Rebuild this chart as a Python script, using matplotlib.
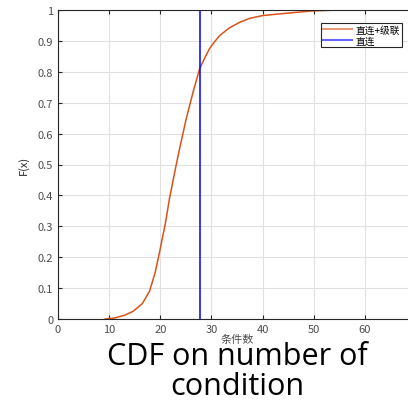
import numpy as np
import matplotlib
matplotlib.use('Agg')
import matplotlib.pyplot as plt

plt.rcParams['font.family'] = ['Noto Sans CJK SC', 'DejaVu Sans']

# CDF
cond_x = [9.2, 11, 13, 14.7, 16.5, 17.9, 19, 19.9, 21, 21.8, 23, 23.8, 25.1, 26.5,
          27.7, 28.7, 29.6, 30.5, 31.6, 33.5, 35.5, 37.5, 40, 45, 49.7, 55, 70]
cond_cdf = [0.0, 0.003, 0.012, 0.025, 0.05, 0.09, 0.15, 0.22, 0.31, 0.39, 0.49, 0.553,
            0.65, 0.74, 0.81, 0.845, 0.874, 0.895, 0.917, 0.942, 0.96, 0.973, 0.982,
            0.99, 0.997, 1.0, 1.0]
direct_x = 27.7

fig = plt.figure(figsize=(4.08, 4.06), dpi=100)
ax = fig.add_axes([58 / 408, 1 - 320 / 406, 358 / 408, 309 / 406])
ax.plot(cond_x, cond_cdf, color='#D95319', lw=1.1, label='直连+级联')
ax.axvline(direct_x, color='#0000FF', lw=1.1, label='直连')
ax.set_xlim(0, 70)
ax.set_ylim(0, 1)
ax.set_xticks(np.arange(0, 71, 10))
ax.set_xticklabels(['0', '10', '20', '30', '40', '50', '60', ''])
ax.set_yticks(np.arange(0, 1.01, 0.1))
ax.set_yticklabels(['0', '0.1', '0.2', '0.3', '0.4', '0.5', '0.6', '0.7', '0.8', '0.9', '1'])
ax.grid(True, color='#e0e0e0', lw=0.8)
ax.tick_params(direction='in', labelsize=8, colors='#262626', labelcolor='#4d4d4d',
               top=True, right=True, length=3)
for s in ax.spines.values():
    s.set_color('#262626')
    s.set_linewidth(0.8)
ax.set_xlabel('条件数', fontsize=8, color='#4d4d4d', labelpad=0)
ax.set_ylabel('F(x)', fontsize=8, color='#262626', labelpad=6)
leg = ax.legend(loc='upper right', bbox_to_anchor=((407 - 58) / 358, 0.975), fontsize=7,
                fancybox=False, edgecolor='#262626', framealpha=1,
                handlelength=3.0, borderpad=0.2, labelspacing=0.1, handletextpad=0.4)
leg.get_frame().set_linewidth(0.8)
for line in leg.get_lines():
    line.set_alpha(0.6)
    line.set_linewidth(1.5)

fig.text(237 / 408, 1 - 372 / 406, 'CDF on number of\ncondition', ha='center', va='center',
         fontsize=22, color='black', family=['Open Sans', 'DejaVu Sans'], linespacing=1.0)

plt.savefig('out.png', dpi=100)
